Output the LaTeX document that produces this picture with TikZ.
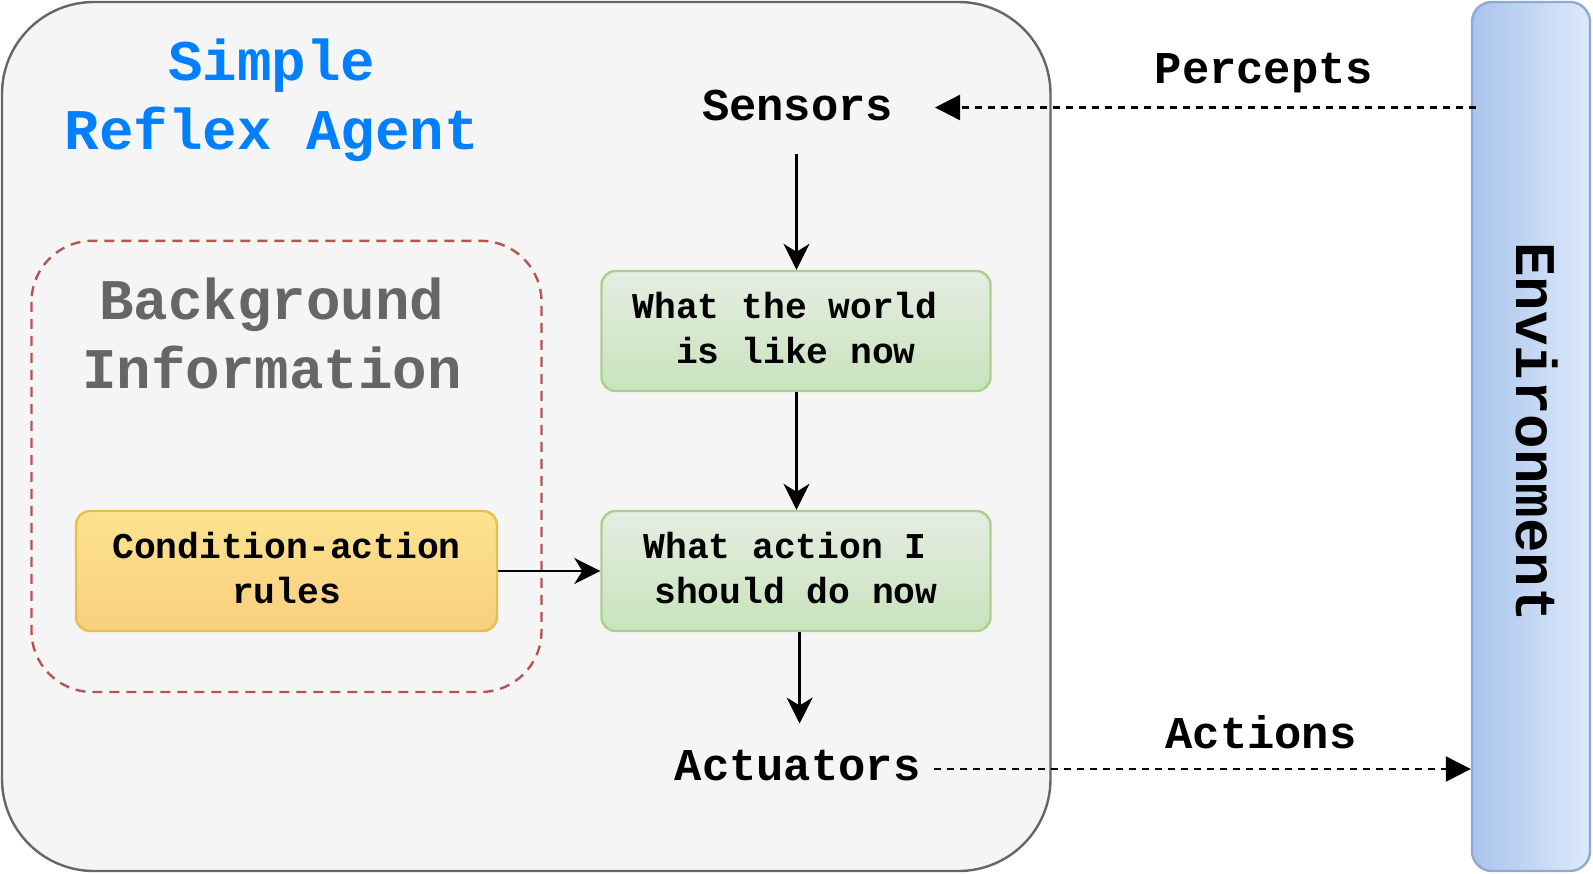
\documentclass[tikz,border=0pt]{standalone}
\usepackage{fontspec}
\setmonofont{Liberation Mono}
\usetikzlibrary{arrows.meta,calc}
\definecolor{agentfill}{HTML}{F5F5F5}
\definecolor{agentdraw}{HTML}{666666}
\definecolor{bgred}{HTML}{B85450}
\definecolor{titleblue}{HTML}{007FFF}
\definecolor{graytext}{HTML}{666666}
\definecolor{gtop}{HTML}{E5EDE2}
\definecolor{gbot}{HTML}{C8E3BC}
\definecolor{gdraw}{HTML}{A9D08F}
\definecolor{ytop}{HTML}{FCE38F}
\definecolor{ybot}{HTML}{F9CF7E}
\definecolor{ydraw}{HTML}{E8BE50}
\definecolor{eleft}{HTML}{A9C4EB}
\definecolor{eright}{HTML}{DDE9FC}
\definecolor{edraw}{HTML}{8DAAD6}
\tikzset{
  fbig/.style={font=\ttfamily\bfseries\fontsize{57.5}{69}\selectfont},
  fmid/.style={font=\ttfamily\bfseries\fontsize{45.5}{54}\selectfont},
  fsmall/.style={font=\ttfamily\bfseries\fontsize{36.3}{44.7}\selectfont},
  greenbox/.style={draw=gdraw, line width=2.4pt, rounded corners=14pt, top color=gtop, bottom color=gbot, minimum width=389pt, minimum height=120pt, inner sep=0pt},
  yellowbox/.style={draw=ydraw, line width=2.4pt, rounded corners=14pt, top color=ytop, bottom color=ybot, minimum width=421pt, minimum height=120pt, inner sep=0pt},
  boxtext/.style={fsmall, align=center, inner sep=0pt},
  conn/.style={line width=2.4pt, -{Stealth[length=26pt, width=26pt, inset=8pt]}},
  dconn/.style={line width=2.4pt, dash pattern=on 7pt off 6pt, -{Triangle[length=25pt, width=25pt]}},
}
\begin{document}
\begin{tikzpicture}[x=1pt,y=-1pt]
\useasboundingbox (0,0) rectangle (1593,873);
% outer agent box
\draw[fill=agentfill, draw=agentdraw, line width=2.4pt, rounded corners=92pt] (2,2) rectangle (1050.5,871);
% environment bar
\node[draw=edraw, line width=2.4pt, rounded corners=20pt, left color=eleft, right color=eright, minimum width=118pt, minimum height=869pt, inner sep=0pt] (env) at (1531,436.5) {};
\node[fbig, rotate=-90] (envtext) at (1537,432) {Environment};
% background dashed box
\draw[bgred, line width=2.4pt, dash pattern=on 10pt off 7pt, rounded corners=61pt] (31.5,240.8) rectangle (541.5,692);
% titles
\node[fbig, text=titleblue, align=center] (title) at (272,100.5) {Simple\\Reflex Agent};
\node[fbig, text=graytext, align=center] (bginfo) at (272,333) {Background\\Information};
% boxes
\node[greenbox] (world) at (796,331) {};
\node[boxtext] (worldtext) at (796,328) {What the world\hphantom{W}\\is like now};
\node[greenbox] (act) at (796,571) {};
\node[boxtext] (acttext) at (796,568) {What action I\hphantom{W}\\should do now};
\node[yellowbox] (rules) at (286.5,571) {};
\node[boxtext] (rulestext) at (286.5,568) {Condition-action\\rules};
% sensors / actuators
\node[fmid, minimum height=96.6pt, inner sep=0pt] (sensors) at (797.6,105.7) {Sensors};
\node[fmid, minimum height=85pt, inner sep=0pt] (actuators) at (797.6,766) {Actuators};
\node[fmid] (percepts) at (1264,73) {Percepts};
\node[fmid] (actions) at (1261,732.5) {Actions};
% connectors
\coordinate (sbot) at (796.5,154.4);
\draw[conn] (sbot) -- (world.north -| sbot);
\draw[conn] (world.south -| sbot) -- (act.north -| sbot);
\coordinate (atop) at (799.6,723.5);
\draw[conn] (act.south -| atop) -- (atop);
\draw[conn] (rules.east) -- (act.west);
\coordinate (pstart) at (1476,107.5);
\coordinate (pend) at (935,107.5);
\draw[dconn] (pstart) -- (pend);
\coordinate (astart) at (934,769);
\draw[dconn] (astart) -- (astart -| env.west);
\end{tikzpicture}
\end{document}
